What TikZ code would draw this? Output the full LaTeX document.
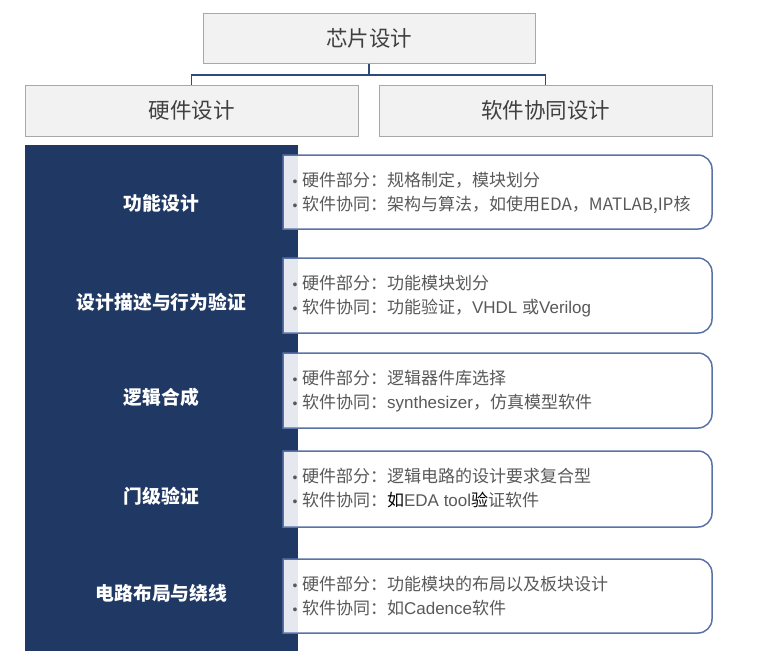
\documentclass[tikz,border=0pt]{standalone}
\usepackage{fontspec}
\setmainfont{Noto Sans CJK SC}
\newfontfamily\arialf{Liberation Sans}
\usetikzlibrary{shadows}
\definecolor{darkcol}{HTML}{1F3864}
\definecolor{connc}{HTML}{2E4A7A}
\definecolor{hdrfill}{HTML}{F2F2F2}
\definecolor{hdrline}{HTML}{A8A8A8}
\definecolor{hdrtext}{HTML}{404040}
\definecolor{cardline}{HTML}{5A72A8}
\definecolor{stripc}{HTML}{E6E8EF}
\definecolor{txtc}{HTML}{595959}
\newcommand{\bul}{{\arialf\fontsize{14pt}{14pt}\selectfont •}\hspace{4.5pt}}
\newcommand{\mycard}[2]{%
  \fill[white] (283,#1) -- (698,#1) .. controls (705.7,#1) and (712,#1+6.3) .. (712,#1+14)
    -- (712,#2-14) .. controls (712,#2-6.3) and (705.7,#2) .. (698,#2) -- (283,#2) -- cycle;
  \fill[stripc] (283,#1) rectangle (298,#2);
  \draw[cardline, line width=1.5pt] (283,#1) -- (698,#1) .. controls (705.7,#1) and (712,#1+6.3) .. (712,#1+14)
    -- (712,#2-14) .. controls (712,#2-6.3) and (705.7,#2) .. (698,#2) -- (283,#2) -- cycle;
}
\tikzset{
  hdr/.style={draw=hdrline, line width=1pt, fill=hdrfill, text=hdrtext,
    font=\fontsize{21.5pt}{24pt}\selectfont, inner sep=0pt,
    drop shadow={shadow xshift=1.2pt, shadow yshift=-1.2pt, fill=black!40, opacity=1}},
  conn/.style={connc, line width=1.8pt},
  collabel/.style={text=white, font=\bfseries\fontsize{18.8pt}{22pt}\selectfont, inner sep=0pt, anchor=base},
  cardtxt/.style={text=txtc, font=\fontsize{17pt}{20pt}\selectfont, inner sep=0pt, anchor=base west},
}
\begin{document}
\begin{tikzpicture}[x=1pt,y=-1pt]
\useasboundingbox (0,0) rectangle (764,659);
\fill[white] (0,0) rectangle (764,659);

% headers
\node[hdr, minimum width=332pt, minimum height=50pt] (chip) at (369,38) {芯片设计};
\node[hdr, minimum width=333pt, minimum height=51pt] (hw) at (191.5,110.5) {硬件设计};
\node[hdr, minimum width=333pt, minimum height=51pt] (sw) at (545.5,110.5) {软件协同设计};
\coordinate (mid) at (369,75);
\draw[conn] (chip.south) -- (mid);
\draw[conn] (mid) -| (hw.north);
\draw[conn] (mid) -| (sw.north);

% dark column
\fill[darkcol] (25,145) rectangle (298,651);

% cards
\mycard{155}{229}
\mycard{258}{333}
\mycard{353}{428}
\mycard{451}{527}
\mycard{559}{633}

% column labels
\node[collabel] (l1) at (161.5,210) {功能设计};
\node[collabel] (l2) at (161.5,309) {设计描述与行为验证};
\node[collabel] (l3) at (161.5,404) {逻辑合成};
\node[collabel] (l4) at (161.5,503) {门级验证};
\node[collabel] (l5) at (161.5,600) {电路布局与绕线};

% card texts
\node[cardtxt] (c1a) at (292.5,186) {\bul 硬件部分：规格制定，模块划分};
\node[cardtxt] (c1b) at (292.5,210.5) {\bul 软件协同：架构与算法，如使用EDA，MATLAB,IP核};
\node[cardtxt] (c2a) at (292.5,289) {\bul 硬件部分：功能模块划分};
\node[cardtxt] (c2b) at (292.5,313.5) {\bul 软件协同：功能验证，{\arialf VHDL }或{\arialf Verilog}};
\node[cardtxt] (c3a) at (292.5,384) {\bul 硬件部分：逻辑器件库选择};
\node[cardtxt] (c3b) at (292.5,408.5) {\bul 软件协同：{\arialf synthesizer}，仿真模型软件};
\node[cardtxt] (c4a) at (292.5,482) {\bul 硬件部分：逻辑电路的设计要求复合型};
\node[cardtxt] (c4b) at (292.5,506.5) {\bul 软件协同：{\color{black}如}{\arialf EDA tool}{\color{black}验}证软件};
\node[cardtxt] (c5a) at (292.5,590) {\bul 硬件部分：功能模块的布局以及板块设计};
\node[cardtxt] (c5b) at (292.5,614.5) {\bul 软件协同：如{\arialf Cadence}软件};
\end{tikzpicture}
\end{document}
